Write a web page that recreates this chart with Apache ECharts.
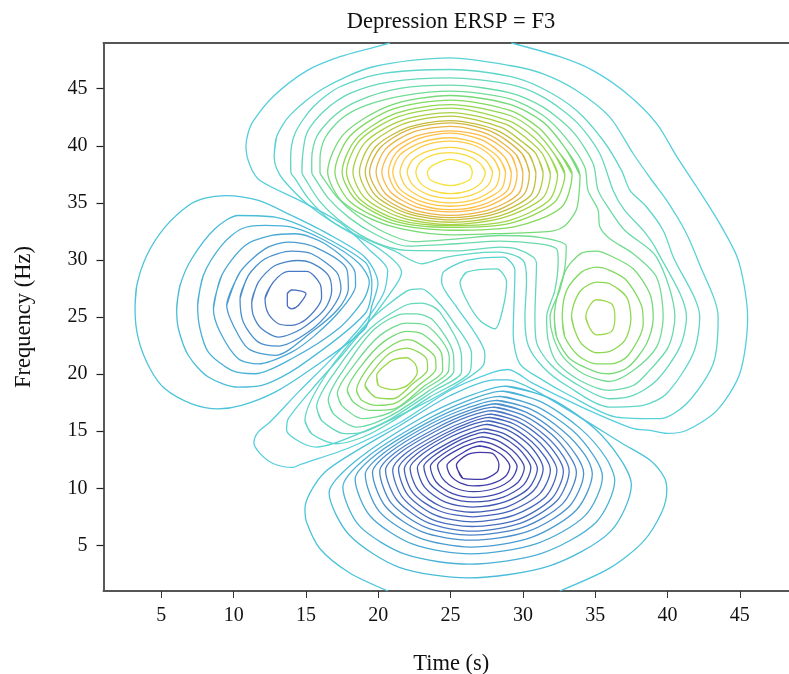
<!DOCTYPE html>
<html>
<head>
<meta charset="utf-8">
<title>Depression ERSP = F3</title>
<style>
html,body{margin:0;padding:0;background:#fff;}
#chart{width:789px;height:674px;}
</style>
<script src="https://cdn.jsdelivr.net/npm/echarts@6/dist/echarts.min.js"></script>
</head>
<body>
<div id="chart"></div>
<script>
var xTicks = [5,10,15,20,25,30,35,40,45];
var yTicks = [5,10,15,20,25,30,35,40,45];

// contour lines, [time, frequency]
// upper blob, innermost first
var top1 = [[26.5,37.7],[26.3,38.3],[25,38.8],[23.8,38.3],[23.4,37.7],[23.6,37],[25,36.5],[26.3,37]];
var top2 = [[27.4,37.7],[27,38.5],[26.1,39.15],[25,39.4],[23.8,39.2],[22.9,38.55],[22.6,37.7],[22.9,36.75],[23.8,36.05],[25,35.8],[26.2,36.05],[27.1,36.75]];
var top3 = [[27.9,37.7],[27.45,38.7],[26.4,39.5],[25,39.85],[23.5,39.55],[22.4,38.8],[22,37.7],[22.4,36.55],[23.5,35.7],[25,35.4],[26.5,35.7],[27.6,36.55]];
var top4 = [[28.4,37.7],[27.95,38.9],[26.7,40],[25,40.4],[23.25,40.05],[21.95,39.05],[21.5,37.7],[21.95,36.35],[23.25,35.35],[25,35],[26.8,35.35],[28.1,36.35]];
var top5 = [[28.8,37.7],[28.3,39],[26.9,40.2],[25,40.7],[23,40.3],[21.5,39.2],[21,37.7],[21.5,36.2],[23,35.1],[25,34.7],[27,35.1],[28.5,36.2]];
var top6 = [[29.2,37.6],[28.75,39],[27.2,40.5],[25,41.1],[22.85,40.65],[21.25,39.4],[20.7,37.7],[21.25,36.05],[22.85,34.85],[25,34.4],[27.25,34.85],[28.9,36.05]];
var top7 = [[29.6,37.6],[29.2,39.15],[27.4,40.75],[25,41.3],[22.6,40.85],[20.85,39.5],[20.25,37.7],[20.85,35.95],[22.6,34.65],[25,34.2],[27.45,34.65],[29.25,35.95]];
var top8 = [[30,37.6],[29.55,39.2],[27.6,41],[25,41.7],[22.4,41.2],[20.5,39.7],[19.85,37.7],[20.5,35.8],[22.4,34.4],[25,33.9],[27.7,34.4],[29.7,35.8]];
var top9 = [[30.45,37.6],[29.95,39.3],[27.9,41.2],[25,42],[22.2,41.45],[20.15,39.85],[19.4,37.7],[20.15,35.7],[22.2,34.2],[25,33.7],[27.9,34.2],[30.05,35.7]];
var top10 = [[30.9,37.6],[30.4,39.3],[28.2,41.35],[25,42.2],[22.05,41.6],[19.85,39.95],[19.1,37.7],[19.85,35.6],[22.05,34.05],[25,33.5],[28.15,34.05],[30.5,35.6]];
var top11 = [[31.4,37.6],[30.9,39.3],[30,40.3],[28.5,41.6],[25,42.6],[21.85,41.95],[19.5,40.15],[18.7,37.7],[19.5,35.5],[21.85,33.85],[25,33.3],[28.4,33.85],[30.9,35.5]];
var top12 = [[31.9,37.5],[31.35,39.3],[30.3,40.6],[28.8,41.9],[25,42.9],[21.6,42.2],[19.1,40.3],[18.25,37.7],[19.1,35.4],[21.6,33.7],[25,33.1],[28.65,33.7],[31.35,35.4]];
var top13 = [[32.4,37.5],[31.75,39.3],[30.6,40.9],[29,42.2],[25,43.3],[21.4,42.55],[18.75,40.5],[17.8,37.7],[18.75,35.3],[21.4,33.5],[25,33],[28.9,33.4],[31.8,35.2]];
var top14 = [[32.9,37.5],[32.15,39.3],[30.9,41.2],[29.1,42.65],[25,43.6],[21.25,42.85],[18.5,40.65],[17.5,37.7],[18.5,35.2],[21.25,33.35],[25,32.85],[29.1,33.2],[32.15,35]];
var top15 = [[33.4,37.5],[32.56,39.3],[31.17,41.49],[29.1,43.09],[25,44],[21,43.2],[18.05,40.85],[17,37.7],[18.05,35.1],[21,33.2],[25,32.6],[29.4,32.9],[32.65,34.6]];
var top16 = [[33.95,37.4],[32.95,39.74],[31.4,42.07],[29.1,43.62],[25,44.4],[20.75,43.5],[17.6,41],[16.5,37.7],[17.6,35],[20.75,33],[25,32.2],[28,32.3],[31.9,32.5],[32.9,33],[33.7,34.4],[33.9,36.1]];

// lines that run round the upper and right blobs together
var wrap17 = [[15.97,37.65],[15.97,38.89],[16.3,40.64],[17.47,42.39],[19.2,43.56],[21.96,44.44],[24.96,44.78],[29.1,44.11],[31.4,42.65],[33.02,40.61],[34.28,38.13],[34.5,36.09],[35.2,34.37],[35.32,32.9],[36.01,31.85],[37.63,30.54],[39.24,28.49],[39.7,24.99],[39.24,22.36],[37.63,20.32],[36,19.36],[34.17,20.03],[32.79,21.49],[32.1,23.24],[31.87,24.99],[32.55,27.33],[32.9,29.3],[33,31.2],[31.17,31.97],[28.41,32.14],[25.64,31.87],[22.42,31.6],[20.35,32.47],[18.5,33.93],[17.12,35.53],[16.2,37.14]];
var wrap18 = [[15.4,37.65],[15.4,38.89],[15.74,40.79],[17,42.68],[18.73,44],[21.5,45.02],[24.96,45.31],[29.1,44.64],[31.4,43.38],[33.48,41.19],[34.86,38.42],[35.2,36.09],[36,34.4],[37.05,32.58],[39.24,30.25],[40.51,24.99],[40.05,22.36],[38.55,20.03],[37.63,19],[36,18.57],[33.94,19.44],[32.33,21.05],[31.75,22.95],[31.64,24.99],[32.21,27.33],[32.44,29.95],[32.33,30.97],[31.17,31.41],[28.41,31.65],[25.64,31.44],[21.96,31.21],[19.89,32.18],[18.04,33.64],[16.55,35.39],[15.62,37.14]];
var wrap19 = [[14.72,37.65],[14.75,38.89],[15.05,41.08],[16.2,42.98],[18.04,44.58],[20.8,45.6],[24.96,45.95],[29.1,45.37],[31.4,44.26],[33.71,42.07],[35.32,39.3],[36.24,36.09],[37,34.4],[38.32,32.58],[39.25,30.86],[41.31,24.99],[40.85,22.36],[39.24,19.44],[37.63,18.13],[36,17.84],[33.48,19.3],[31.87,20.9],[30.94,22.8],[30.83,24.99],[30.94,29.66],[30.71,30.25],[29.56,30.97],[28.41,31.12],[25.64,30.8],[21.98,30.83],[19.66,31.6],[17.58,33.2],[15.97,35.1],[14.93,37.14]];
var wrap20 = [[13.96,37.65],[13.94,38.89],[14.24,41.08],[15.51,43.41],[17.35,45.17],[20.35,46.33],[24.96,46.68],[29.1,46.07],[31.4,44.99],[33.71,43.09],[35.55,40.46],[36.82,37.84],[37.4,36.09],[38.54,34.66],[39.7,32.58],[40.39,30.28],[42.23,24.99],[41.77,21.78],[39.93,18.28],[38.32,17.26],[36,17.11],[33.02,19],[31.4,20.6],[30.37,22.5],[30.14,24.99],[30.25,28.2],[30.02,29.95],[28.41,30.68],[27.95,30.68],[24.72,30.25],[23,29.66],[21.04,30.83],[18.5,32.18],[16.66,33.49],[15.16,35.39],[14.24,37.14]];
var wrap21 = [[12.8,39],[12.97,40.79],[13.9,42.68],[16.2,45.02],[19.66,46.92],[24.96,47.7],[29.1,47.03],[31.4,46.3],[33.71,44.84],[36.01,42.51],[37.63,39.3],[38.9,37],[39.93,35.24],[41.2,32.58],[42.2,29.66],[43.5,24.99],[43.16,20.9],[41.31,17.4],[39.47,16.09],[36.47,16.23],[33.02,18.28],[31.4,19.45],[29.79,20.9],[29.33,23.53],[29.45,29.08],[28.64,30.25],[26.1,29.95],[24.5,28.93],[24.38,28.06],[25.42,25.87],[26.57,23.82],[27.37,21.78],[27.26,20.76],[25.88,19.4],[22.65,17.1],[19.2,15.07],[15.74,13.61],[14.59,14.05],[13.66,15.07],[13.78,16.09],[15.74,19.15],[17.58,21.78],[19.43,24.7],[21.27,27.91],[21.61,28.93],[20.23,30.83],[17.35,32.9],[15.05,34.95],[13.44,37],[12.97,38]];
var outer22 = [[29.2,49],[32.55,47.8],[34.83,46.6],[37.18,44.57],[39.25,41.94],[40.64,39.05],[42,36.43],[43.6,33.2],[44.8,30.3],[45.3,27.76],[45.54,24.96],[45,20.05],[43.4,16.8],[41.3,15.06],[39.95,14.8],[38.8,15.06],[37.6,15.24],[34.14,17.07],[30.7,19.18],[28.96,20.4],[27.9,20.14],[24.95,18.56],[21.5,15.76],[18.04,13.57],[14.6,12.08],[14.1,11.82],[12.72,12.17],[11.82,13.05],[11.4,14],[11.68,14.9],[12.51,15.8],[14.59,18.57],[16.89,21.49],[18.96,24.41],[20.35,27.04],[20.65,29.08],[19.43,30.83],[17.35,33.27],[14.58,35.2],[11.82,36.95],[11.13,38.27],[10.85,39.93],[10.99,41.07],[11.33,42.12],[12.72,44.3],[15.07,46.58],[17.35,47.8],[19.63,48.6],[20.8,49]];

// right blob
var right1 = [[34.35,25],[34.63,24],[35.09,23.44],[36.13,23.74],[36.36,25],[36.13,26.16],[35.09,26.51],[34.63,26.01]];
var right2 = [[33.36,25],[33.59,23.82],[34.05,22.66],[35.09,21.87],[36.01,21.98],[37.05,22.95],[37.47,24.85],[37.17,26.74],[36.01,27.91],[35.09,28.06],[34.05,27.38],[33.53,26.16]];
var right3 = [[32.72,25],[32.9,23.24],[33.82,21.63],[35.09,20.9],[36.13,20.9],[37.28,21.63],[38.32,24.41],[38.2,26.01],[37.17,28.2],[36.01,29.08],[35.09,29.37],[34.05,28.93],[33.02,27.33]];
var right4 = [[32.17,25],[32.33,23.24],[33.25,21.34],[35.09,20.17],[36.01,20.03],[37.28,20.61],[38.55,22.66],[39.01,24.85],[38.78,27.03],[37.63,29.22],[36.01,30.39],[35.09,30.77],[34.05,30.6],[32.9,28.93]];

// small loop in the middle
var centre1 = [[25.65,28.06],[26.11,28.93],[28.18,29.22],[28.87,28.06],[28.64,25.87],[28.07,23.97],[27.03,24.7],[26.11,26.45]];

// middle green blob
var mid1 = [[19.89,19.88],[20,19.01],[21.04,18.63],[22.01,19.01],[22.7,20.18],[22.54,20.91],[21.96,21.43],[21.04,21.26],[20.46,20.76]];
var mid2 = [[19.08,19.01],[19.77,17.99],[21.04,17.84],[22.42,19.2],[23.41,20.4],[23.34,21.34],[21.96,22.28],[20.81,21.84],[19.77,20.47]];
var mid3 = [[18.5,18.57],[18.85,17.7],[19.89,17.26],[21.27,17.5],[22.88,19.1],[23.99,20.5],[23.92,21.49],[22.65,22.8],[21.96,23.01],[20.58,22.22],[19.31,20.61]];
var mid4 = [[17.86,18.57],[18.27,17.55],[19.42,16.82],[21.04,16.93],[23.11,18.9],[24.45,20.3],[24.38,21.78],[23.11,23.47],[21.96,23.74],[20.35,22.8],[18.85,20.76]];
var mid5 = [[17.17,18.28],[17.47,17.26],[18.96,16.09],[20.81,16.62],[23.23,18.7],[24.84,20.2],[24.91,21.49],[23.34,24.26],[21.96,24.47],[20.12,23.39],[18.4,20.91]];
var mid6 = [[16.54,17.7],[16.89,16.53],[18.5,15.36],[20.81,16.32],[23.57,18.6],[25.23,20.3],[25.19,21.78],[23.8,24.7],[22.65,25.28],[21.84,25.28],[19.77,23.97],[17.81,20.76]];
var mid7 = [[15.74,17.11],[16.08,15.94],[17.7,14.78],[18.96,14.92],[20.81,16.03],[23.8,18.5],[25.76,20.2],[25.76,21.49],[24.26,25.43],[23,26.22],[21.84,26.01],[19.43,23.97],[17,20.18]];
var mid8 = [[14.93,15.94],[15.39,14.78],[17.12,13.9],[18.96,14.49],[20.81,15.74],[23.57,18],[26.34,20.2],[26.45,21.78],[25.19,24.55],[24.03,26.45],[23,27.47],[21.96,27.27],[19.2,24.41],[16.2,19.59]];

// left blue blob
var left0 = [[13.71,27.03],[14.01,27.38],[15,27.03],[14.47,26.01],[14.01,25.72],[13.71,26.01]];
var left1 = [[12.17,26.6],[12.74,28.06],[13.78,28.99],[15.05,28.99],[15.97,27.91],[16.08,26.74],[15.05,24.84],[14.01,24.26],[13.09,24.41],[12.4,25.28]];
var left2 = [[11.25,26.3],[11.71,28.06],[12.86,29.51],[14.47,29.95],[15.51,29.66],[16.55,28.64],[16.78,27.33],[16.31,25.72],[14.7,23.97],[13.09,23.24],[11.94,23.97],[11.36,25.14]];
var left3 = [[10.44,26.6],[11.02,28.64],[12.17,30.1],[14.01,30.77],[15.39,30.54],[17.12,28.93],[17.42,27.47],[16.78,25.72],[15.16,23.68],[13.09,22.45],[11.71,22.8],[10.67,24.55]];
var left4 = [[9.52,26.01],[10.44,28.93],[12.17,30.97],[13.78,31.56],[15.62,31.12],[17.81,29.22],[17.93,27.47],[17.24,25.72],[15.39,23.68],[12.86,21.63],[11.02,22.22],[9.98,24.26]];
var left5 = [[8.6,25.72],[9.17,28.64],[10.79,31.27],[12.63,32.14],[14.24,32.29],[16.31,31.41],[18.39,28.93],[18.43,27.76],[17.47,25.72],[15.62,23.39],[14.01,21.93],[11.71,20.9],[10.32,21.34],[9.06,23.68]];
var left6 = [[7.51,26.01],[7.9,28.64],[9.17,31.27],[10.55,32.73],[12.17,33.02],[14.01,32.87],[16.31,31.7],[18.62,29.75],[19.38,28.05],[18.96,26.45],[17.24,23.97],[14.01,21.34],[11.48,20.03],[9.86,20.32],[8.25,21.93],[7.67,23.97]];
var left7 = [[6.06,25.72],[6.29,27.76],[7.1,30.1],[8.71,32.73],[10.32,33.89],[12.86,33.75],[15.39,32.58],[19.08,29.81],[19.56,27.94],[19.08,25.28],[14.47,20.61],[11.94,19.01],[10.32,18.86],[8.25,19.74],[6.87,21.63],[6.18,23.97]];
var left8 = [[3.18,25.72],[3.3,27.76],[3.99,30.39],[5.25,32.87],[6.87,34.77],[8.02,35.41],[9.4,35.64],[11.71,35.21],[14.01,33.89],[16.31,32.43],[19.08,30.24],[19.98,27.94],[19.56,26.01],[19.08,23.97],[15.39,20.47],[12.86,18.42],[10.55,17.26],[8.94,16.96],[7.1,17.4],[5.25,18.71],[4.22,20.47],[3.41,23.09]];

// lower blob, innermost first
var low1 = [[25.4,12],[25.85,10.87],[27.16,10.78],[28.2,11.4],[28.34,12.1],[27.9,13.05],[27,13.14],[26.1,12.9]];
var low2 = [[27,13.7],[27.75,13.5],[28.5,12.95],[28.95,12.35],[29.1,11.9],[28.8,11.05],[27.85,10.4],[26.6,10.2],[25.7,10.45],[25,11.1],[24.75,12],[25.1,12.5],[25.9,13.15],[26.5,13.55]];
var low3 = [[27.1,14.1],[27.95,13.85],[28.85,13.2],[29.4,12.45],[29.6,11.9],[29.2,10.8],[28.1,10],[26.6,9.7],[25.35,10],[24.45,10.85],[24.1,12],[24.55,12.65],[25.6,13.45],[26.45,13.9]];
var low4 = [[27.2,14.5],[28.2,14.2],[29.25,13.35],[29.85,12.5],[30.1,11.8],[29.65,10.5],[28.35,9.55],[26.6,9.2],[25.1,9.55],[24,10.55],[23.6,11.9],[24.15,12.7],[25.4,13.7],[26.4,14.25]];
var low5 = [[27.3,14.9],[28.45,14.55],[29.6,13.6],[30.3,12.55],[30.55,11.8],[30.05,10.3],[28.6,9.2],[26.6,8.8],[24.9,9.2],[23.6,10.35],[23.15,11.9],[23.8,12.8],[25.25,13.95],[26.4,14.6]];
var low6 = [[27.4,15.2],[28.65,14.8],[29.9,13.75],[30.7,12.6],[31,11.7],[30.4,10],[28.75,8.8],[26.5,8.35],[24.6,8.8],[23.2,10.1],[22.7,11.8],[23.4,12.85],[25.05,14.1],[26.35,14.85]];
var low7 = [[27.5,15.6],[28.85,15.15],[30.25,14],[31.1,12.7],[31.4,11.7],[30.75,9.8],[28.95,8.4],[26.5,7.9],[24.35,8.4],[22.75,9.85],[22.2,11.8],[23,12.95],[24.85,14.4],[26.35,15.2]];
var low8 = [[27.6,15.9],[29.1,15.4],[30.6,14.1],[31.55,12.7],[31.9,11.6],[31.2,9.55],[29.2,8.05],[26.5,7.5],[24.15,8.05],[22.4,9.6],[21.8,11.7],[22.65,13],[24.7,14.6],[26.3,15.5]];
var low9 = [[27.7,16.2],[29.35,15.65],[30.95,14.25],[31.95,12.75],[32.35,11.6],[31.6,9.3],[29.4,7.65],[26.5,7.05],[23.95,7.65],[22.05,9.4],[21.4,11.7],[22.3,13.05],[24.55,14.75],[26.3,15.75]];
var low10 = [[27.8,16.5],[29.55,15.9],[31.3,14.4],[32.4,12.75],[32.8,11.5],[32,9.1],[29.65,7.25],[26.5,6.65],[23.75,7.25],[21.7,9.15],[21,11.6],[21.95,13.1],[24.4,14.95],[26.3,16]];
var low11 = [[27.9,16.8],[29.75,16.15],[31.6,14.55],[32.8,12.8],[33.2,11.5],[32.35,8.9],[29.85,6.95],[26.5,6.25],[23.5,6.95],[21.3,8.95],[20.5,11.6],[21.6,13.2],[24.2,15.15],[26.25,16.3]];
var low12 = [[28,17.1],[30,16.4],[32,14.7],[33.25,12.8],[33.7,11.4],[32.75,8.65],[30.05,6.6],[26.4,5.9],[23.25,6.6],[20.9,8.7],[20.1,11.5],[21.25,13.2],[24.05,15.3],[26.25,16.55]];
var low13 = [[28.1,17.4],[30.25,16.65],[32.35,14.85],[33.7,12.85],[34.2,11.3],[33.2,8.4],[30.3,6.2],[26.4,5.45],[23,6.2],[20.5,8.4],[19.6,11.4],[20.85,13.2],[23.85,15.5],[26.25,16.8]];
var low14 = [[28.2,17.7],[30.5,16.95],[32.8,15],[34.3,12.9],[34.8,11.3],[33.7,8.1],[30.6,5.7],[26.4,4.85],[22.75,5.7],[20.05,8],[19.1,11.2],[20.45,13.15],[23.65,15.65],[26.2,17.05]];
var low15 = [[28.4,18.05],[30.9,17.2],[33.4,15.1],[34.95,12.75],[35.5,11],[34.3,7.6],[30.95,5.15],[26.4,4.25],[22.4,5.1],[19.45,7.55],[18.4,10.8],[19.9,13],[23.4,15.75],[26.2,17.35]];
var low16 = [[28.6,18.5],[31.3,17.55],[34,15.2],[35.75,12.65],[36.35,10.7],[35.05,7],[31.3,4.3],[26.3,3.35],[21.9,4.2],[18.7,6.7],[17.55,10.1],[19.2,12.7],[23.05,15.8],[26.15,17.65]];
var low17 = [[28.8,18.95],[31.85,17.9],[34.9,15.3],[36.8,12.45],[37.5,10.3],[36.05,6.2],[31.85,3.2],[26.2,2.15],[21.4,3.1],[18,5.9],[16.6,9.6],[18.45,12.4],[22.7,15.96],[26.1,18]];
var low18 = [[20.67,1],[18,2.6],[15.97,4.7],[15.05,7],[14.93,8.2],[15.28,9.6],[16.3,11.4],[18,12.9],[21.5,15.5],[24.95,18.1],[28.06,19.5],[28.96,19.5],[30.7,18.66],[34.1,16.1],[36.9,13.9],[38.8,12.45],[39.8,10.9],[39.95,9.8],[39.6,7.9],[38.3,5.3],[36,3],[32.55,1]];

// colour of each level, from the middle of a warm peak outwards
var warmColors = ['#f5e23a','#f8dc3c','#fbd540','#fdcd42','#ffc645','#ffc048','#fdba48','#eab544','#d4b640','#c4be3c','#b6c83e','#a8d244','#9cd84a','#8ed854','#82da60','#76da78','#70dc94','#6adaaa','#64d8bc','#5ed6c8','#5ad2d4','#56cede'];
var coolColors = ['#4338a6','#413ea8','#4044aa','#404aae','#4050b0','#4056b4','#425cb6','#4462ba','#4668bc','#486ec0','#4a78c4','#4a84c8','#4a90cc','#4a9cd0','#4aa8d4','#4ab2d6','#4abcd8','#4cc4da'];

var series = [];
function addLine(pts, color, closed){
    series.push({
        type: 'line',
        // run over the first two points again so the join stays round
        data: closed ? pts.concat(pts.slice(0,2)) : pts,
        showSymbol: false,
        smooth: 0.28,
        silent: true,
        clip: true,
        lineStyle: {color: color, width: 1.3}
    });
}

[top1,top2,top3,top4,top5,top6,top7,top8,top9,top10,top11,top12,top13,top14,top15,top16,wrap17,wrap18,wrap19,wrap20,wrap21].forEach(function(pts,i){
    addLine(pts, warmColors[i], true);
});
addLine(outer22, warmColors[21], false);
[right1,right2,right3,right4].forEach(function(pts,i){ addLine(pts, warmColors[12+i], true); });
[mid1,mid2,mid3,mid4,mid5,mid6,mid7,mid8].forEach(function(pts,i){ addLine(pts, warmColors[12+i], true); });
addLine(centre1, warmColors[19], true);
[left0,left1,left2,left3,left4,left5,left6,left7,left8].forEach(function(pts,i){ addLine(pts, coolColors[9+i], true); });
[low1,low2,low3,low4,low5,low6,low7,low8,low9,low10,low11,low12,low13,low14,low15,low16,low17].forEach(function(pts,i){
    addLine(pts, coolColors[i], true);
});
addLine(low18, coolColors[17], false);

var serif = '"Liberation Serif", serif';
var myChart = echarts.init(document.getElementById('chart'));
myChart.setOption({
    animation: false,
    backgroundColor: '#fff',
    title: {
        text: 'Depression ERSP = F3',
        left: 446,
        top: 6,
        textAlign: 'center',
        textStyle: {fontFamily: serif, fontSize: 22.5, fontWeight: 'normal', color: '#111'}
    },
    grid: {left: 103.5, right: 0, top: 43, bottom: 83, outerBoundsMode: 'none'},
    xAxis: [{
        type: 'value',
        min: 1,
        max: 48.4,
        name: 'Time (s)',
        nameLocation: 'middle',
        nameGap: 62,
        nameTextStyle: {fontFamily: serif, fontSize: 22.5, color: '#111', padding: [0,0,0,10]},
        splitLine: {show: false},
        axisLine: {show: true, onZero: false, lineStyle: {color: '#555', width: 2}},
        axisTick: {show: true, length: 7, customValues: xTicks, lineStyle: {color: '#333', width: 1}},
        axisLabel: {customValues: xTicks, margin: 15, fontFamily: serif, fontSize: 20, color: '#111'}
    }, {
        type: 'value',
        position: 'top',
        min: 1,
        max: 48.4,
        splitLine: {show: false},
        axisLine: {show: true, onZero: false, lineStyle: {color: '#555', width: 2}},
        axisTick: {show: false},
        axisLabel: {show: false}
    }],
    yAxis: {
        type: 'value',
        min: 1,
        max: 49,
        name: 'Frequency (Hz)',
        nameLocation: 'middle',
        nameGap: 68,
        nameTextStyle: {fontFamily: serif, fontSize: 22.5, color: '#111'},
        splitLine: {show: false},
        axisLine: {show: true, onZero: false, lineStyle: {color: '#222', width: 1.5}},
        axisTick: {show: true, length: 7, customValues: yTicks, lineStyle: {color: '#222', width: 1.2}},
        axisLabel: {customValues: yTicks, margin: 16, fontFamily: serif, fontSize: 20, color: '#111'}
    },
    series: series
});
</script>
</body>
</html>
